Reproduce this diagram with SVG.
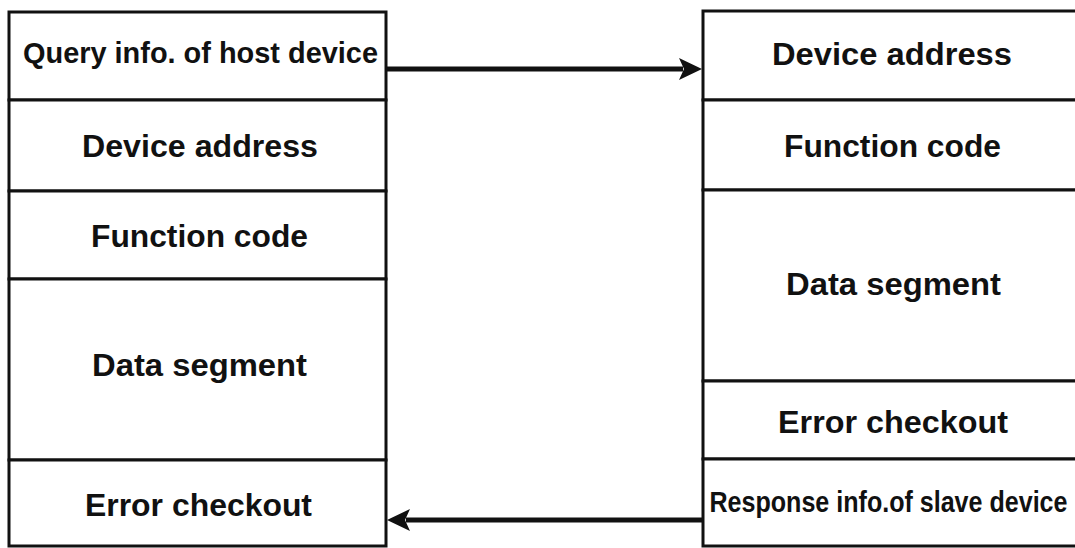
<svg xmlns="http://www.w3.org/2000/svg" width="1075" height="548" viewBox="0 0 1075 548">
  <defs>
    <style>
      .cell { fill: #ffffff; stroke: #111111; stroke-width: 3; }
      .lbl { font-family: "Liberation Sans", Arial, sans-serif; font-weight: bold; font-size: 31px; fill: #111111; text-anchor: middle; }
      .conn { stroke: #111111; stroke-width: 5; fill: none; }
    </style>
    <marker id="arrow" markerUnits="userSpaceOnUse" markerWidth="24" markerHeight="24" refX="4" refY="12" orient="auto">
      <path d="M0,1 L23,12 L0,23 L5,12 z" fill="#111111"/>
    </marker>
  </defs>
  <rect x="0" y="0" width="1075" height="548" fill="#ffffff"/>

  <g id="left-query">
    <rect class="cell" x="9" y="12" width="377" height="88"/>
    <text class="lbl" x="200.5" y="63" textLength="355" lengthAdjust="spacingAndGlyphs" style="font-size:30px">Query info. of host device</text>
  </g>
  <g id="left-address">
    <rect class="cell" x="9" y="100" width="377" height="91"/>
    <text class="lbl" x="200" y="157" textLength="236" lengthAdjust="spacingAndGlyphs">Device address</text>
  </g>
  <g id="left-function">
    <rect class="cell" x="9" y="191" width="377" height="88"/>
    <text class="lbl" x="199.5" y="247" textLength="217" lengthAdjust="spacingAndGlyphs">Function code</text>
  </g>
  <g id="left-data">
    <rect class="cell" x="9" y="279" width="377" height="181"/>
    <text class="lbl" x="199.5" y="376" textLength="215" lengthAdjust="spacingAndGlyphs">Data segment</text>
  </g>
  <g id="left-error">
    <rect class="cell" x="9" y="460" width="377" height="86"/>
    <text class="lbl" x="198.5" y="516" textLength="227" lengthAdjust="spacingAndGlyphs">Error checkout</text>
  </g>

  <g id="right-address">
    <rect class="cell" x="703" y="11" width="380" height="89"/>
    <text class="lbl" x="892" y="65" textLength="240" lengthAdjust="spacingAndGlyphs">Device address</text>
  </g>
  <g id="right-function">
    <rect class="cell" x="703" y="100" width="380" height="90"/>
    <text class="lbl" x="892.5" y="157" textLength="217" lengthAdjust="spacingAndGlyphs">Function code</text>
  </g>
  <g id="right-data">
    <rect class="cell" x="703" y="190" width="380" height="191"/>
    <text class="lbl" x="893.5" y="295" textLength="215" lengthAdjust="spacingAndGlyphs">Data segment</text>
  </g>
  <g id="right-error">
    <rect class="cell" x="703" y="381" width="380" height="78"/>
    <text class="lbl" x="893" y="433" textLength="230" lengthAdjust="spacingAndGlyphs">Error checkout</text>
  </g>
  <g id="right-response">
    <rect class="cell" x="703" y="459" width="380" height="87"/>
    <text class="lbl" x="888.5" y="512" textLength="358" lengthAdjust="spacingAndGlyphs" style="font-size:30px">Response info.of slave device</text>
  </g>

  <g id="connectors">
    <line class="conn" x1="387" y1="69" x2="683" y2="69" marker-end="url(#arrow)"/>
    <line class="conn" x1="702" y1="520" x2="406" y2="520" marker-end="url(#arrow)"/>
  </g>
</svg>
